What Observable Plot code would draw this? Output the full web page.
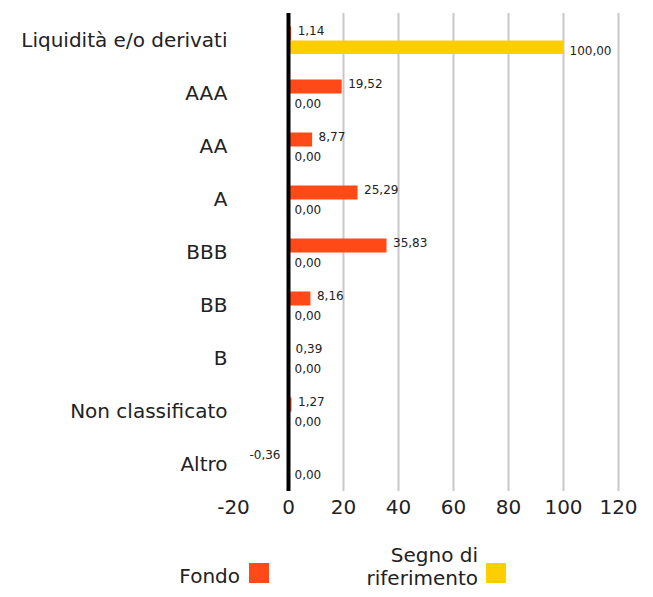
<!DOCTYPE html>
<html>
<head>
<meta charset="utf-8">
<script src="https://cdn.jsdelivr.net/npm/d3@7"></script>
<script src="https://cdn.jsdelivr.net/npm/@observablehq/plot@0.6"></script>
<style>
  body { margin: 0; background: #fff; font-family: "DejaVu Sans", sans-serif; color: #222; }
  #wrap { position: relative; width: 653px; height: 597px; }
  .leg { position: absolute; font-size: 20px; line-height: 22px; text-align: right; color: #222; white-space: nowrap; }
  .sw { position: absolute; width: 20px; height: 20px; }
</style>
</head>
<body>
<div id="wrap">
  <div id="chart"></div>
  <div class="leg" style="right:413px; top:565px;">Fondo</div>
  <div class="sw" style="left:249px; top:563px; background:#ff4a17;"></div>
  <div class="leg" style="right:175px; top:544px;">Segno di</div>
  <div class="leg" style="right:175px; top:567px;">riferimento</div>
  <div class="sw" style="left:486px; top:563px; background:#ffce00;"></div>
</div>
<script>
const categories = ["Liquidità e/o derivati","AAA","AA","A","BBB","BB","B","Non classificato","Altro"];
const fondo = [1.14, 19.52, 8.77, 25.29, 35.83, 8.16, 0.39, 1.27, -0.36];
const segno = [100, 0, 0, 0, 0, 0, 0, 0, 0];
const xTicks = [-20, 0, 20, 40, 60, 80, 100, 120];
const gridTicks = [20, 40, 60, 80, 100, 120];

const rowsF = categories.map((c, i) => ({category: c, value: fondo[i]}));
const rowsS = categories.map((c, i) => ({category: c, value: segno[i]}));
const fmt = v => v.toFixed(2).replace(".", ",");

const chart = Plot.plot({
  width: 653,
  height: 526,
  marginLeft: 233,
  marginRight: 35,
  marginTop: 13,
  marginBottom: 35,
  style: {fontFamily: "'DejaVu Sans', sans-serif", color: "#222", background: "#fff"},
  x: {domain: [-20, 120], label: null},
  y: {domain: categories, padding: 0, label: null},
  marks: [
    Plot.ruleX(gridTicks, {stroke: "#c8c8c8", strokeWidth: 2}),
    Plot.barX(rowsF, {x: "value", y: "category", fill: "#ff4a17", insetTop: 12.5, insetBottom: 26.5}),
    Plot.barX(rowsS, {x: "value", y: "category", fill: "#ffce00", insetTop: 26.5, insetBottom: 13}),
    Plot.ruleX([0], {stroke: "#000", strokeWidth: 4}),
    Plot.text(rowsF.filter(d => d.value >= 0), {x: "value", y: "category", text: d => fmt(d.value), textAnchor: "start", dx: 6, dy: -10, fontSize: 12, fill: "#222"}),
    Plot.text(rowsF.filter(d => d.value < 0), {x: "value", y: "category", text: d => fmt(d.value), textAnchor: "end", dx: -7, dy: -10, fontSize: 12, fill: "#222"}),
    Plot.text(rowsS, {x: "value", y: "category", text: d => fmt(d.value), textAnchor: "start", dx: 6, dy: 10, fontSize: 12, fill: "#222"}),
    Plot.axisX({ticks: xTicks, tickFormat: d => String(d), tickSize: 0, tickPadding: 8, fontSize: 20, label: null}),
    Plot.axisY({tickSize: 0, tickPadding: 6, fontSize: 20, label: null})
  ]
});
document.getElementById("chart").appendChild(chart);
</script>
</body>
</html>
